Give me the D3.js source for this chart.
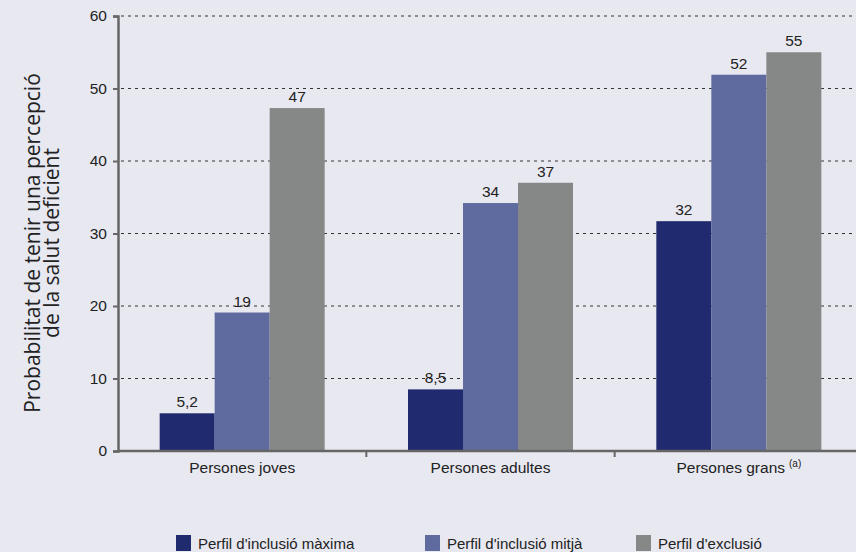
<!DOCTYPE html>
<html><head><meta charset="utf-8">
<script src="https://cdn.jsdelivr.net/npm/d3@7"></script>
<style>
html,body{margin:0;padding:0;background:#e8e8f1;}
svg{display:block;}
text{font-family:"Liberation Sans",Arial,sans-serif;fill:#222;}
</style></head>
<body>
<svg id="chart" width="856" height="552"></svg>
<script>
const categories = ["Persones joves", "Persones adultes", "Persones grans"];
const seriesNames = ["Perfil d'inclusió màxima", "Perfil d'inclusió mitjà", "Perfil d'exclusió"];
const maxima = [5.2, 8.5, 31.7];
const mitja = [19.1, 34.2, 51.9];
const exclusio = [47.3, 37.0, 55.0];
const valueLabels = [["5,2","8,5","32"],["19","34","52"],["47","37","55"]];
const yTicks = [0, 10, 20, 30, 40, 50, 60];
const colors = ["#202a6e", "#5f6a9e", "#868887"];

const series = [maxima, mitja, exclusio];
const svg = d3.select("#chart");
const x0 = d3.scaleBand().domain(categories).range([118, 863]).paddingInner(0).paddingOuter(0);
const x1 = d3.scaleBand().domain(d3.range(3)).range([0, 165]);
const y = d3.scaleLinear().domain([0, 60]).range([451, 16]);

// gridlines
svg.append("g").selectAll("line").data(yTicks.filter(d => d > 0)).join("line")
  .attr("x1", 121).attr("x2", 856).attr("y1", d => y(d)).attr("y2", d => y(d))
  .attr("stroke", "#333").attr("stroke-width", 1).attr("stroke-dasharray", "3,4");

// bars
const groups = svg.append("g").selectAll("g").data(categories).join("g")
  .attr("transform", c => `translate(${x0(c) + (x0.bandwidth() - 165) / 2},0)`);
groups.each(function(c, ci) {
  const g = d3.select(this);
  series.forEach((s, si) => {
    g.append("rect").attr("x", x1(si)).attr("width", x1.bandwidth())
      .attr("y", y(s[ci])).attr("height", y(0) - y(s[ci])).attr("fill", colors[si]);
    g.append("text").attr("x", x1(si) + x1.bandwidth() / 2).attr("y", y(s[ci]) - 6)
      .attr("text-anchor", "middle").attr("font-size", 15.5).text(valueLabels[si][ci]);
  });
});

// y axis
const yAxis = d3.axisLeft(y).tickValues(yTicks).tickSize(5).tickPadding(6).tickFormat(d3.format("d"));
const ya = svg.append("g").attr("transform", "translate(118,0)").call(yAxis);
ya.select(".domain").attr("stroke", "#666").attr("stroke-width", 2.5);
ya.selectAll(".tick line").attr("stroke", "#666").attr("stroke-width", 2);
ya.selectAll(".tick text").attr("font-size", 15.5).attr("fill", "#222").style("font-family", "'Liberation Sans',Arial,sans-serif");

// x axis
const xAxis = d3.axisBottom(x0).tickSize(0).tickPadding(11);
const xa = svg.append("g").attr("transform", "translate(0,451)").call(xAxis);
xa.select(".domain").attr("stroke", "#666").attr("stroke-width", 2.5).attr("d", "M118,0H856");
xa.selectAll(".tick text").attr("font-size", 15.5).attr("fill", "#222").style("font-family", "'Liberation Sans',Arial,sans-serif");
xa.selectAll(".tick").filter(d => d === "Persones grans").select("text")
  .append("tspan").attr("dy", -6).attr("dx", 4).attr("font-size", 10).text("(a)");
// separators between categories
svg.append("g").selectAll("line").data(categories.slice(1)).join("line")
  .attr("x1", c => x0(c)).attr("x2", c => x0(c)).attr("y1", 451).attr("y2", 457)
  .attr("stroke", "#666").attr("stroke-width", 2);

// y title
const yt = svg.append("text").attr("transform", "translate(43,243) rotate(-90)")
  .attr("text-anchor", "middle").style("font-family", "'Open Sans','Noto Sans',sans-serif")
  .attr("font-size", 21).attr("fill", "#222");
yt.append("tspan").attr("x", 0).attr("dy", -3).text("Probabilitat de tenir una percepció");
yt.append("tspan").attr("x", 0).attr("dy", 19).text("de la salut deficient");

// legend
const legendX = [176, 425, 636];
const lg = svg.append("g").selectAll("g").data(seriesNames).join("g")
  .attr("transform", (d, i) => `translate(${legendX[i]},535)`);
lg.append("rect").attr("width", 15).attr("height", 16).attr("fill", (d, i) => colors[i]);
lg.append("text").attr("x", 22).attr("y", 14).attr("font-size", 15).text(d => d);
</script>
</body></html>
